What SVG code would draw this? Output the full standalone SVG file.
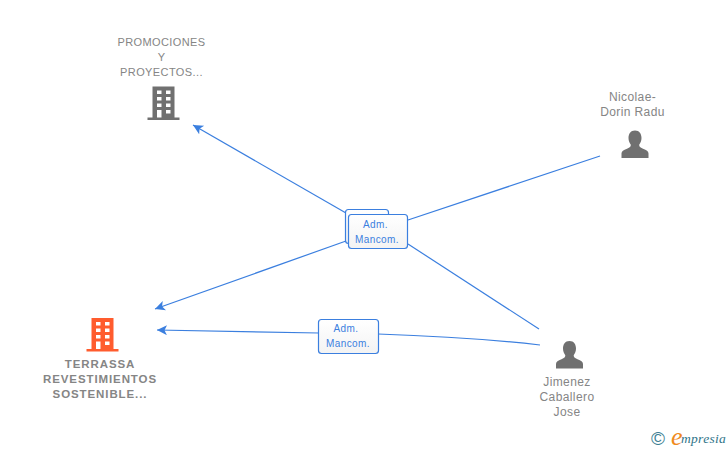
<svg xmlns="http://www.w3.org/2000/svg" width="728" height="450" viewBox="0 0 728 450">
<defs>
<marker id="arr" markerUnits="userSpaceOnUse" markerWidth="12" markerHeight="12" refX="10" refY="5" orient="auto"><path d="M10 5L0 0L2.500 5L0 10Z" fill="#3b7fdf"/></marker>
<linearGradient id="lbl" x1="0" y1="0" x2="0" y2="1"><stop offset="0" stop-color="#fff"/><stop offset="1" stop-color="#f3f3f3"/></linearGradient>
<path id="building" d="M-11 -17H11V14H16V16.500H-16V14H-11ZM-6.500 -13V-9.500H-2V-13ZM2.500 -13V-9.500H7V-13ZM-6.500 -6.500V-3H-2V-6.500ZM2.500 -6.500V-3H7V-6.500ZM-6.500 0V3.500H-2V0ZM2.500 0V3.500H7V0ZM-6.500 6.500V14H-2V6.500ZM2.500 6.500V10H7V6.500Z" fill-rule="evenodd"/>
<path id="person" d="M0 -15C4.500 -15 6.500 -11.500 6.500 -7.500C6.500 -4.500 5.500 -2.500 4.200 -0.800C4.200 1 5 2 8 3.200C11.500 4.500 13.500 5.500 13.500 8V12.500H-13.500V8C-13.500 5.500 -11.500 4.500 -8 3.200C-5 2 -4.200 1 -4.200 -0.800C-5.500 -2.500 -6.500 -4.500 -6.500 -7.500C-6.500 -11.500 -4.500 -15 0 -15Z" fill="#707070"/>
</defs>
<style>
.edge{fill:none;stroke:#3b7fdf;stroke-width:1.200}
.lab rect{fill:url(#lbl);stroke:#3b7fdf;stroke-width:1.200}
.lab text{font:10px "Liberation Sans",Arial,sans-serif;fill:#3b7fdf;text-anchor:middle;letter-spacing:.4px}
.g{font:11px "Liberation Sans",Arial,sans-serif;fill:#858585;text-anchor:middle;letter-spacing:.4px}
.p{font:12px "Liberation Sans",Arial,sans-serif;fill:#858585;text-anchor:middle;letter-spacing:.4px}
.b{font:bold 11.500px "Liberation Sans",Arial,sans-serif;fill:#858585;text-anchor:middle;letter-spacing:.9px}
</style>
<g id="connectors">
<path class="edge" marker-end="url(#arr)" d="M346 213L193 125"/>
<path class="edge" marker-end="url(#arr)" d="M346 241L155 309"/>
<path class="edge" d="M408 220L600 156"/>
<path class="edge" d="M408 244L539 329"/>
<path class="edge" marker-end="url(#arr)" d="M319 333L157 330"/>
<path class="edge" d="M378 334Q470 337 540 345"/>
</g>
<g id="label-back" class="lab"><rect x="345.500" y="209.500" width="43" height="34" rx="3"/></g>
<g id="label-adm-1" class="lab"><rect x="348.500" y="214.500" width="59" height="34" rx="3"/><text x="375.500" y="228">Adm.</text><text x="377" y="243">Mancom.</text></g>
<g id="label-adm-2" class="lab"><rect x="318.500" y="319.500" width="60" height="34" rx="3"/><text x="346" y="332">Adm.</text><text x="348" y="347">Mancom.</text></g>
<g id="promociones">
<text class="g" x="161.500" y="46">PROMOCIONES</text><text class="g" x="161.500" y="61">Y</text><text class="g" x="161.500" y="76">PROYECTOS...</text>
<use href="#building" x="163.500" y="103.500" fill="#707070"/>
</g>
<g id="terrassa">
<use href="#building" x="102.500" y="335" fill="#ff5c2e"/>
<text class="b" x="100" y="368">TERRASSA</text><text class="b" x="100" y="383">REVESTIMIENTOS</text><text class="b" x="100" y="398">SOSTENIBLE...</text>
</g>
<g id="nicolae">
<text class="p" x="632.500" y="101">Nicolae-</text><text class="p" x="632.500" y="116">Dorin Radu</text>
<use href="#person" x="635" y="145.500"/>
</g>
<g id="jimenez">
<use href="#person" x="569.500" y="356"/>
<text class="p" x="567" y="386">Jimenez</text><text class="p" x="567" y="401">Caballero</text><text class="p" x="567" y="416">Jose</text>
</g>
<g id="logo">
<text x="658" y="444.500" font-family="Liberation Sans,sans-serif" font-size="19" fill="#3d7f94" text-anchor="middle">©</text>
<text x="671" y="445" font-family="Liberation Serif,serif" font-style="italic" font-size="26" fill="#f08a1d">e</text>
<text x="681" y="443" font-family="Liberation Serif,serif" font-style="italic" font-size="13.500" fill="#2f7488" letter-spacing=".3">mpresia</text>
</g>
</svg>
